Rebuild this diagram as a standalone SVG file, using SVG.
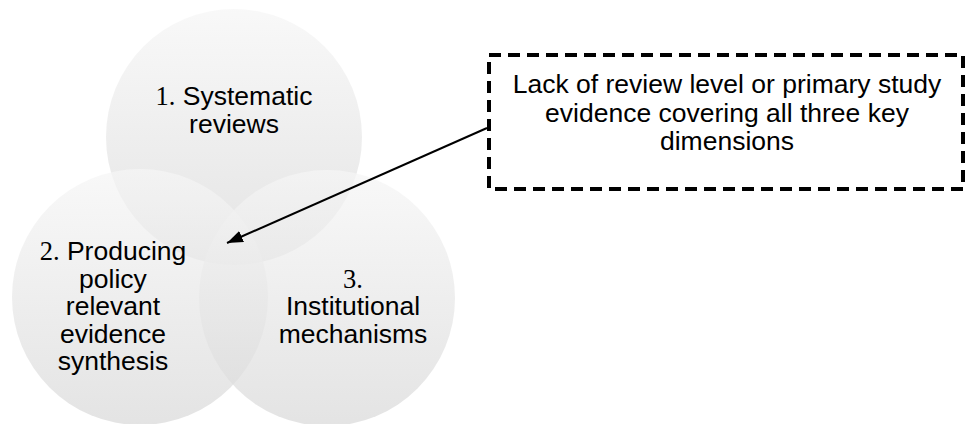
<svg xmlns="http://www.w3.org/2000/svg" width="965" height="424" viewBox="0 0 965 424">
  <defs>
    <linearGradient id="shade" x1="0" y1="0" x2="0" y2="1">
      <stop offset="0" stop-color="#f6f6f6"/>
      <stop offset="1" stop-color="#d9d9d9"/>
    </linearGradient>
    <marker id="head" viewBox="0 0 16 12" refX="16" refY="6" markerWidth="16" markerHeight="12" markerUnits="userSpaceOnUse" orient="auto">
      <path d="M0,0 L16,6 L0,12 z" fill="#000"/>
    </marker>
    <style>
      .ring { fill: url(#shade); fill-opacity: 0.72; stroke: none; }
      .lbl { font-family: "Liberation Sans", Arial, sans-serif; font-size: 26.5px; fill: #000; text-anchor: middle; }
      .num { font-family: "Liberation Serif", "Times New Roman", serif; }
      .note { fill: #fff; stroke: #000; stroke-width: 4; stroke-dasharray: 12 7; }
      .link { stroke: #000; stroke-width: 2; fill: none; }
    </style>
  </defs>
  <rect width="965" height="424" fill="#fff"/>

  <!-- three translucent discs, later ones painted over earlier ones -->
  <g id="node-systematic-reviews">
    <circle class="ring" cx="234" cy="137" r="128"/>
    <text class="lbl" x="234" y="105"><tspan class="num">1.</tspan> Systematic</text>
    <text class="lbl" x="234" y="133">reviews</text>
  </g>

  <g id="node-evidence-synthesis">
    <circle class="ring" cx="140" cy="297" r="128"/>
    <text class="lbl" x="113" y="260"><tspan class="num">2.</tspan> Producing</text>
    <text class="lbl" x="113" y="288">policy</text>
    <text class="lbl" x="113" y="315">relevant</text>
    <text class="lbl" x="113" y="343">evidence</text>
    <text class="lbl" x="113" y="370">synthesis</text>
  </g>

  <g id="node-institutional-mechanisms">
    <circle class="ring" cx="327" cy="298" r="128"/>
    <text class="lbl num" x="353" y="288">3.</text>
    <text class="lbl" x="353" y="315">Institutional</text>
    <text class="lbl" x="353" y="343">mechanisms</text>
  </g>

  <!-- dashed call-out box -->
  <g id="node-evidence-gap">
    <rect class="note" x="489" y="55" width="474" height="134"/>
    <text class="lbl" x="727" y="93">Lack of review level or primary study</text>
    <text class="lbl" x="727" y="122">evidence covering all three key</text>
    <text class="lbl" x="727" y="150">dimensions</text>
  </g>

  <g id="connectors">
    <line class="link" x1="487" y1="128" x2="227" y2="243" marker-end="url(#head)"/>
  </g>
</svg>
